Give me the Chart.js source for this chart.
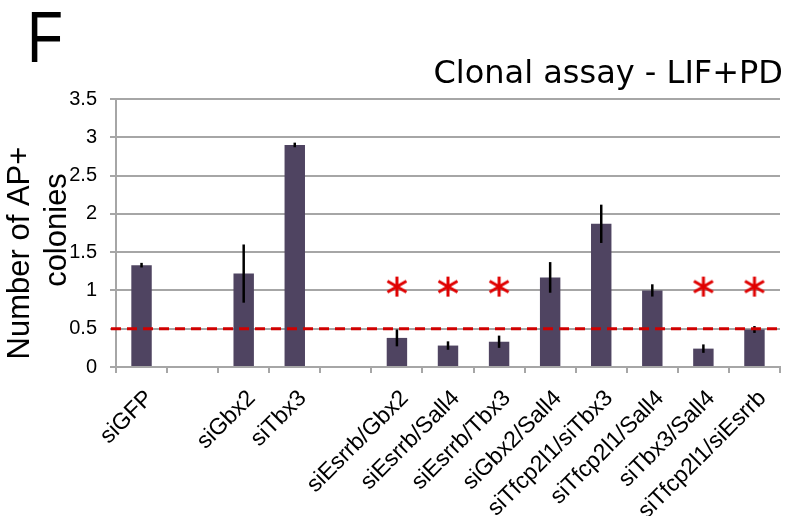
<!DOCTYPE html>
<html>
<head>
<meta charset="utf-8">
<script src="https://cdn.jsdelivr.net/npm/chart.js@4.4.1/dist/chart.umd.min.js"></script>
<style>
    html, body { margin: 0; padding: 0; background: #fff; }
    #wrap { position: relative; width: 791px; height: 516px; }
</style>
</head>
<body>
<div id="wrap"><canvas id="chart" width="791" height="516"></canvas></div>
<script>
// --- data ---
const categories = ['siGFP', '', 'siGbx2', 'siTbx3', '', 'siEsrrb/Gbx2', 'siEsrrb/Sall4', 'siEsrrb/Tbx3',
    'siGbx2/Sall4', 'siTfcp2l1/siTbx3', 'siTfcp2l1/Sall4', 'siTbx3/Sall4', 'siTfcp2l1/siEsrrb'];
const colonies = [1.33, null, 1.22, 2.90, null, 0.38, 0.28, 0.33, 1.17, 1.87, 1.00, 0.24, 0.49];
const errors = [0.03, null, 0.38, 0.03, null, 0.11, 0.055, 0.08, 0.20, 0.25, 0.08, 0.055, 0.045];
const significant = [false, false, false, false, false, true, true, true, false, false, false, true, true];
const starLevel = 1.05;
const threshold = 0.5;
const yTicks = [0, 0.5, 1, 1.5, 2, 2.5, 3, 3.5];

const FONT = "'Liberation Sans', Arial, sans-serif";
const GRID = '#a6a6a6';
const RED = '#d00000';

// asterisk glyph used as point style
function makeAsterisk() {
    const c = document.createElement('canvas');
    c.width = 24; c.height = 24;
    const g = c.getContext('2d');
    g.strokeStyle = '#e00000';
    g.lineWidth = 3;
    g.beginPath();
    g.moveTo(12, 2); g.lineTo(12, 22);
    g.moveTo(2.5, 6.5); g.lineTo(21.5, 17.5);
    g.moveTo(2.5, 17.5); g.lineTo(21.5, 6.5);
    g.stroke();
    return c;
}

const errorBars = {
    id: 'errorBars',
    afterDatasetsDraw(chart) {
        const { ctx, scales: { y } } = chart;
        const meta = chart.getDatasetMeta(0);
        ctx.save();
        ctx.strokeStyle = '#000';
        ctx.lineWidth = 2.5;
        meta.data.forEach((bar, i) => {
            if (colonies[i] == null || !errors[i]) return;
            ctx.beginPath();
            ctx.moveTo(bar.x, y.getPixelForValue(colonies[i] + errors[i]));
            ctx.lineTo(bar.x, y.getPixelForValue(colonies[i] - errors[i]));
            ctx.stroke();
        });
        // cut-off line
        const ty = y.getPixelForValue(threshold);
        ctx.strokeStyle = RED;
        ctx.lineWidth = 3;
        ctx.setLineDash([10, 6]);
        ctx.beginPath();
        ctx.moveTo(chart.chartArea.left - 5, ty);
        ctx.lineTo(chart.chartArea.right, ty);
        ctx.stroke();
        ctx.restore();
    }
};

const labels = {
    id: 'labels',
    afterDraw(chart) {
        const ctx = chart.ctx;
        ctx.save();
        ctx.fillStyle = '#000';
        ctx.textAlign = 'left';
        ctx.textBaseline = 'alphabetic';
        ctx.save();
        ctx.translate(27, 62);
        ctx.scale(0.82, 1);
        ctx.font = '72px ' + FONT;
        ctx.fillText('F', 0, 0);
        ctx.restore();

        ctx.font = "32px 'DejaVu Sans', Verdana, sans-serif";
        ctx.textAlign = 'right';
        ctx.fillText('Clonal assay - LIF+PD', 783, 83);

        // y axis title, two lines
        ctx.font = '31px ' + FONT;
        ctx.textAlign = 'center';
        ctx.textBaseline = 'middle';
        ctx.translate(20, 253);
        ctx.rotate(-Math.PI / 2);
        ctx.fillText('Number of AP+', 0, 0);
        ctx.rotate(Math.PI / 2);
        ctx.translate(37, -23);
        ctx.rotate(-Math.PI / 2);
        ctx.fillText('colonies', 0, 0);
        ctx.restore();
    }
};

new Chart(document.getElementById('chart'), {
    type: 'bar',
    data: {
        labels: categories,
        datasets: [{
            data: colonies,
            backgroundColor: '#4f4461',
            borderWidth: 0,
            barPercentage: 0.4,
            categoryPercentage: 1
        }, {
            type: 'line',
            data: significant.map(s => s ? starLevel : null),
            showLine: false,
            pointStyle: makeAsterisk(),
            pointRadius: 10,
            pointHoverRadius: 10
        }]
    },
    options: {
        responsive: false,
        animation: false,
        events: [],
        layout: { padding: { top: 99, left: 0, right: 0, bottom: 0 } },
        plugins: {
            legend: { display: false },
            tooltip: { enabled: false }
        },
        scales: {
            x: {
                afterFit: s => { s.height = 149; },
                grid: { drawOnChartArea: false, offset: true, color: GRID, lineWidth: 2, tickLength: 6 },
                border: { color: GRID, width: 2 },
                ticks: {
                    autoSkip: false, maxRotation: 45, minRotation: 45, padding: 12, labelOffset: 8,
                    color: '#000', font: { family: FONT, size: 23 }
                }
            },
            y: {
                min: 0, max: 3.5,
                afterFit: s => { s.width = 116; },
                afterBuildTicks: s => { s.ticks = yTicks.map(v => ({ value: v })); },
                grid: { color: GRID, lineWidth: 2, tickLength: 6 },
                border: { color: GRID, width: 2 },
                ticks: {
                    padding: 13, color: '#000', font: { family: FONT, size: 20 },
                    callback: v => String(v)
                }
            }
        }
    },
    plugins: [errorBars, labels]
});
</script>
</body>
</html>
